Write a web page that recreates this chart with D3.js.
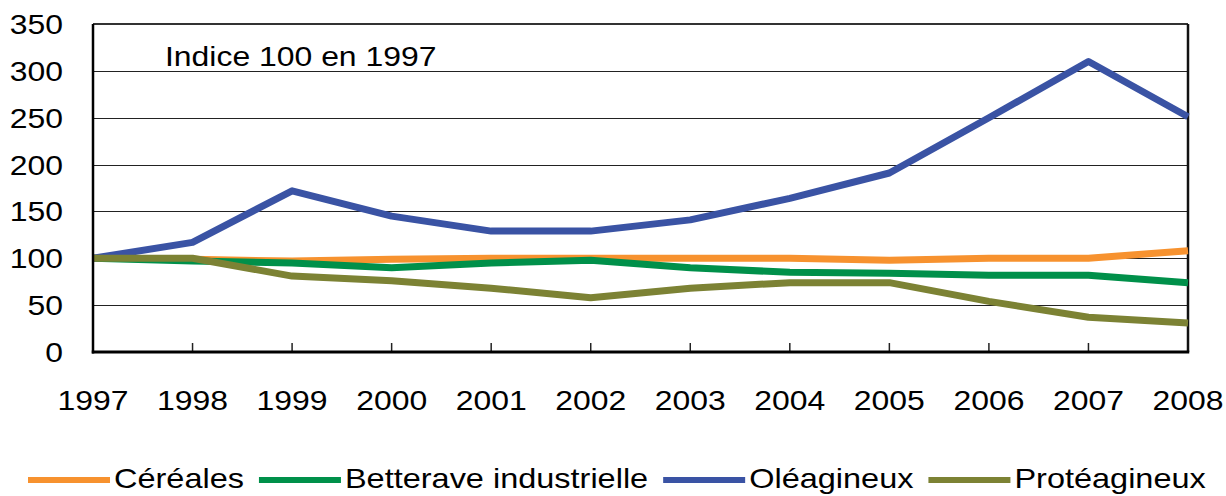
<!DOCTYPE html>
<html>
<head>
<meta charset="utf-8">
<script src="https://cdn.jsdelivr.net/npm/d3@7/dist/d3.min.js"></script>
<style>
  html, body { margin: 0; padding: 0; background: #fff; }
  svg { display: block; font-family: "Liberation Sans", Arial, sans-serif; }
</style>
</head>
<body>
<div id="chart"></div>
<script>
// Data (index 100 in 1997)
const years = [1997, 1998, 1999, 2000, 2001, 2002, 2003, 2004, 2005, 2006, 2007, 2008];
const cereales = [100, 99, 97, 99, 100, 100, 100, 100, 98, 100, 100, 108];
const betterave = [100, 97, 95, 90, 95, 98, 90, 85, 84, 82, 82, 74];
const oleagineux = [100, 117, 172, 145, 129, 129, 141, 164, 191, 250, 310, 251];
const proteagineux = [100, 100, 81, 76, 68, 58, 68, 74, 74, 54, 37, 31];
const yTicks = [0, 50, 100, 150, 200, 250, 300, 350];
const seriesNames = ['Céréales', 'Betterave industrielle', 'Oléagineux', 'Protéagineux'];
const seriesColors = ['#F7922F', '#00904A', '#3A53A4', '#7C8234'];
const note = 'Indice 100 en 1997';

const series = [cereales, betterave, oleagineux, proteagineux].map((values, i) => ({
  name: seriesNames[i],
  color: seriesColors[i],
  values
}));

const width = 1226, height = 496;
const margin = { top: 24, right: 38, bottom: 144, left: 93 };
const stretch = 1.14; // text in the source is slightly wider than normal

const svg = d3.select('#chart')
  .append('svg')
  .attr('width', width)
  .attr('height', height);

const x = d3.scaleLinear()
  .domain(d3.extent(years))
  .range([margin.left, width - margin.right]);

const y = d3.scaleLinear()
  .domain([0, 350])
  .range([height - margin.bottom, margin.top]);

// stretched text helper
function label(g, tx, ty, str, anchor, sx) {
  return g.append('text')
    .attr('transform', `translate(${tx},${ty}) scale(${sx || stretch},1)`)
    .attr('text-anchor', anchor || 'start')
    .style('font-size', '28px')
    .attr('fill', '#000')
    .text(str);
}

// Gridlines
svg.append('g')
  .selectAll('line')
  .data(yTicks.filter(d => d > 0 && d < 350))
  .join('line')
    .attr('x1', x.range()[0])
    .attr('x2', x.range()[1])
    .attr('y1', d => Math.round(y(d)) + 0.5)
    .attr('y2', d => Math.round(y(d)) + 0.5)
    .attr('stroke', '#222')
    .attr('stroke-width', 1);

// Frame (top and right)
svg.append('line')
  .attr('x1', x.range()[0]).attr('x2', x.range()[1])
  .attr('y1', y(350)).attr('y2', y(350))
  .attr('stroke', '#333').attr('stroke-width', 2);
svg.append('line')
  .attr('x1', x.range()[1]).attr('x2', x.range()[1])
  .attr('y1', y(350)).attr('y2', y(0))
  .attr('stroke', '#111').attr('stroke-width', 2.5);

// X ticks (inner)
svg.append('g')
  .selectAll('line')
  .data(years.slice(1, -1))
  .join('line')
    .attr('x1', d => x(d)).attr('x2', d => x(d))
    .attr('y1', y(0) - 9).attr('y2', y(0))
    .attr('stroke', '#222').attr('stroke-width', 1.5);

// Lines
const line = d3.line()
  .x((d, i) => x(years[i]))
  .y(d => y(d));

svg.append('g')
  .selectAll('path')
  .data(series)
  .join('path')
    .attr('d', d => line(d.values))
    .attr('fill', 'none')
    .attr('stroke', d => d.color)
    .attr('stroke-width', 7)
    .attr('stroke-linejoin', 'round')
    .attr('stroke-linecap', 'butt');

// Axes lines (left and bottom)
svg.append('line')
  .attr('x1', x.range()[0]).attr('x2', x.range()[0])
  .attr('y1', y(350)).attr('y2', y(0) + 1.5)
  .attr('stroke', '#000').attr('stroke-width', 2.5);
svg.append('line')
  .attr('x1', x.range()[0] - 1.25).attr('x2', x.range()[1] + 1.25)
  .attr('y1', y(0)).attr('y2', y(0))
  .attr('stroke', '#000').attr('stroke-width', 3);

// Y labels
const yLabels = svg.append('g');
yTicks.forEach(t => label(yLabels, x.range()[0] - 30, y(t) + 10, t, 'end'));

// X labels
const xLabels = svg.append('g');
years.forEach(yr => label(xLabels, x(yr), 410, yr, 'middle'));

// Annotation
label(svg, 165, 66, note);

// Legend
const legend = svg.append('g');
const legendStretch = 1.16;
let lx = 28;
series.forEach(s => {
  legend.append('line')
    .attr('x1', lx).attr('x2', lx + 82)
    .attr('y1', 480).attr('y2', 480)
    .attr('stroke', s.color)
    .attr('stroke-width', 6);
  const t = label(legend, lx + 86, 488, s.name, 'start', legendStretch);
  lx += 86 + t.node().getComputedTextLength() * legendStretch + 15;
});
</script>
</body>
</html>
